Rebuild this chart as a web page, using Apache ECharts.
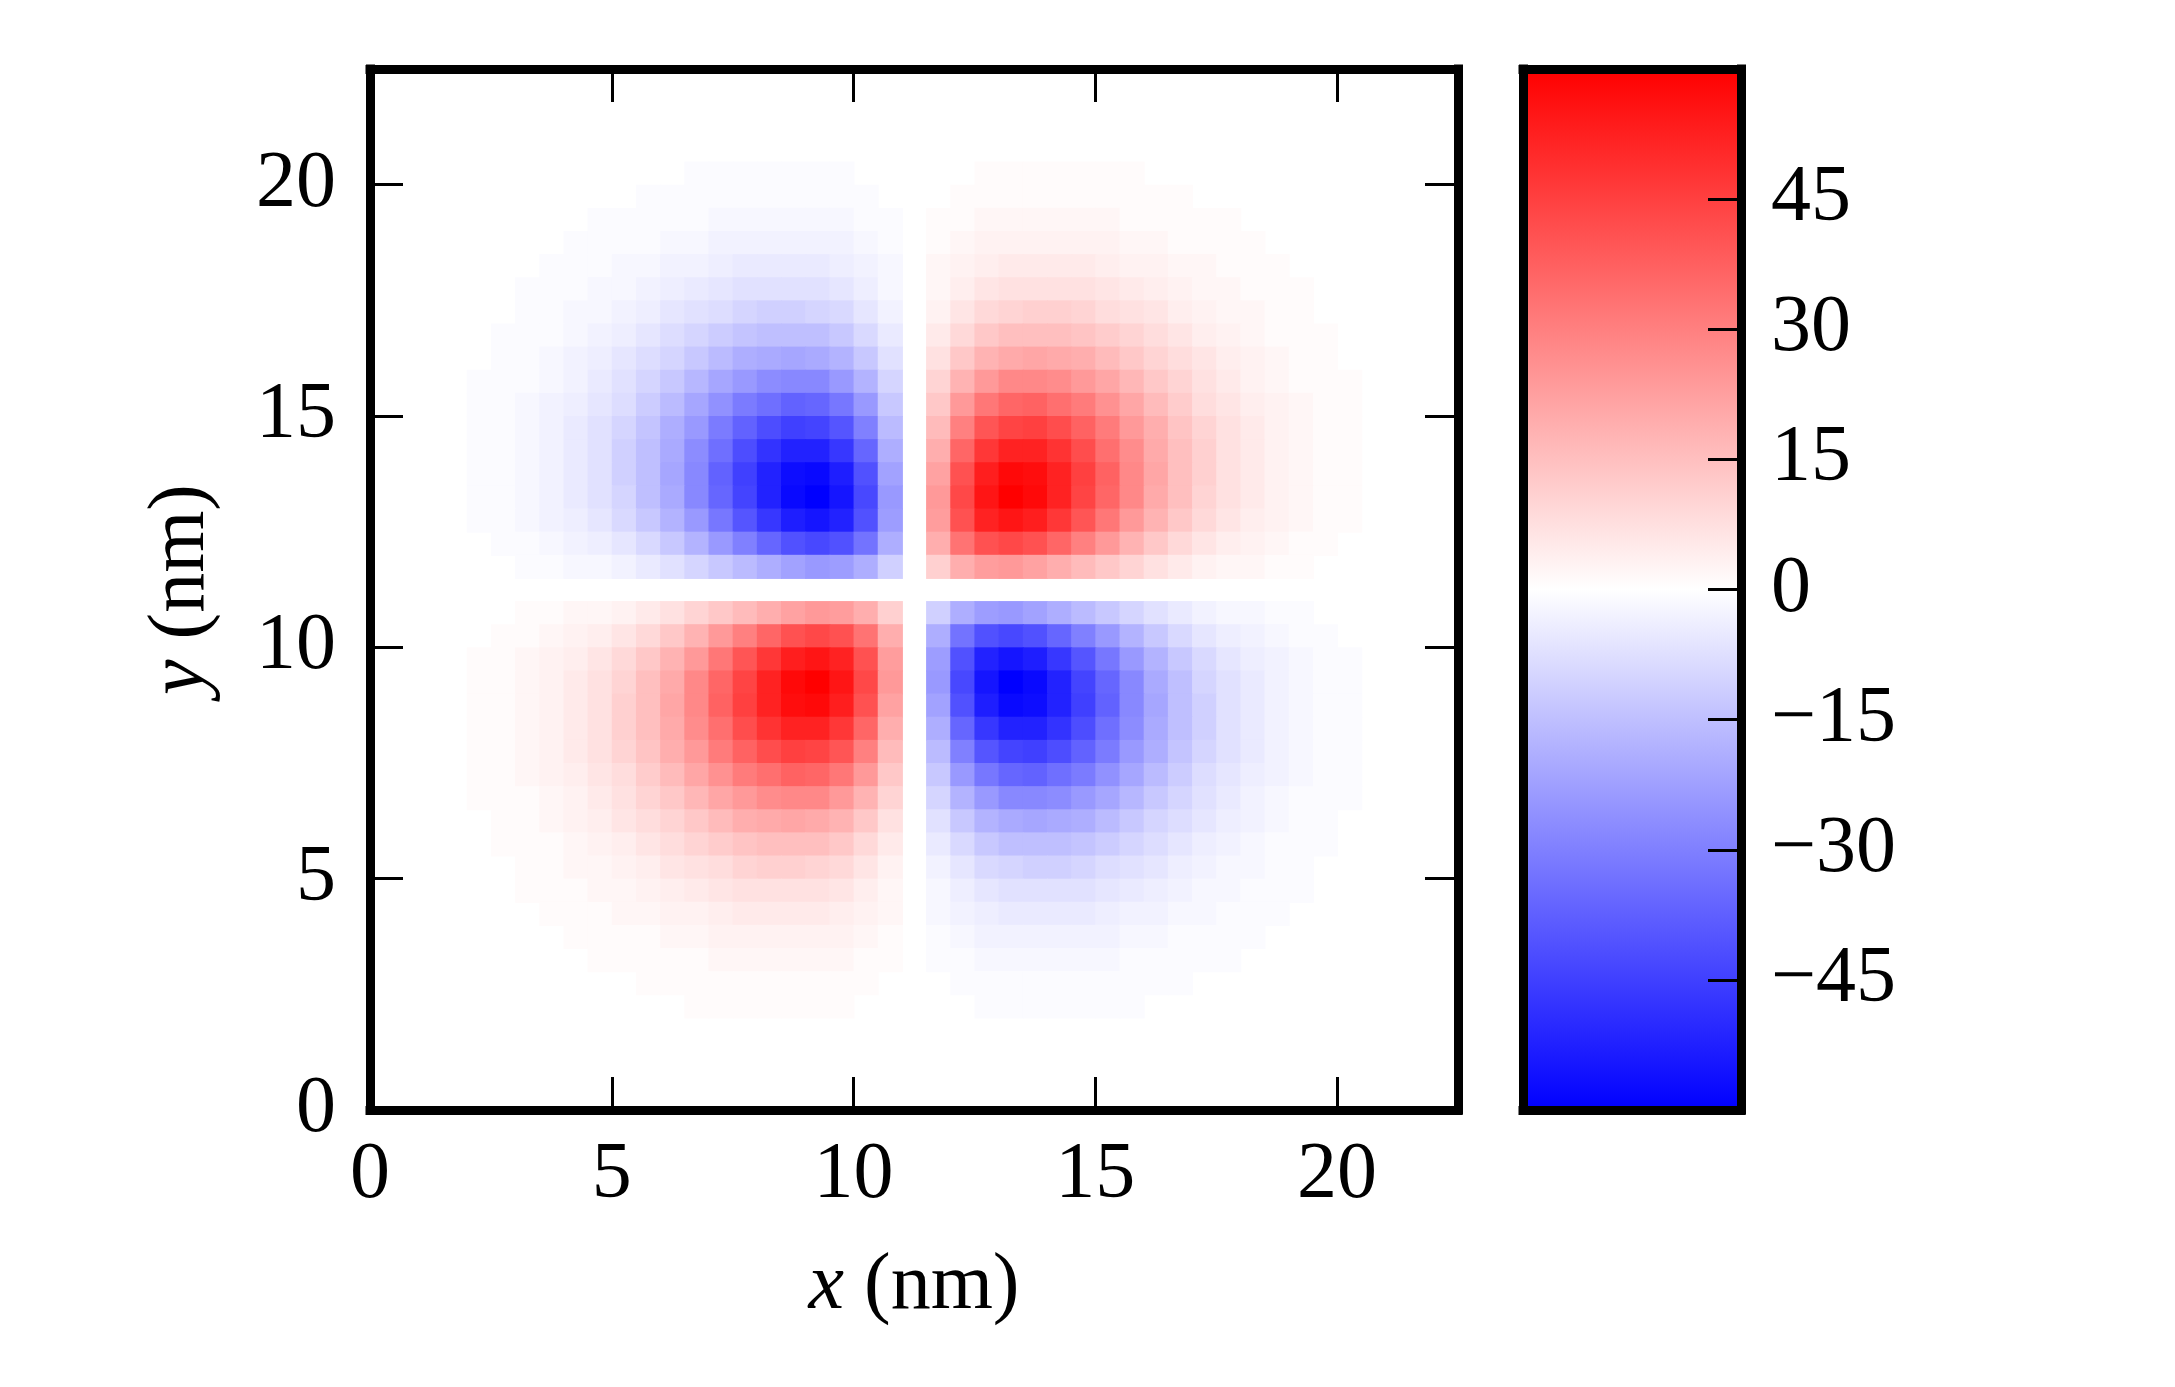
<!DOCTYPE html>
<html>
<head>
<meta charset="UTF-8">
<title>field map</title>
<script src="https://cdn.jsdelivr.net/npm/echarts@6/dist/echarts.min.js"></script>
<style>
  html, body { margin: 0; padding: 0; background: #fff; }
  #main { width: 2175px; height: 1387px; }
</style>
</head>
<body>
<div id="main"></div>
<script>
// cell centres of the map (nm), 0.5 nm cells
var xCells = [2.25, 2.75, 3.25, 3.75, 4.25, 4.75, 5.25, 5.75, 6.25, 6.75, 7.25, 7.75, 8.25, 8.75, 9.25, 9.75, 10.25, 10.75, 11.25,
  11.75, 12.25, 12.75, 13.25, 13.75, 14.25, 14.75, 15.25, 15.75, 16.25, 16.75, 17.25, 17.75, 18.25, 18.75, 19.25, 19.75, 20.25];
var yCells = [20.25, 19.75, 19.25, 18.75, 18.25, 17.75, 17.25, 16.75, 16.25, 15.75, 15.25, 14.75, 14.25, 13.75, 13.25, 12.75, 12.25, 11.75, 11.25,
  10.75, 10.25, 9.75, 9.25, 8.75, 8.25, 7.75, 7.25, 6.75, 6.25, 5.75, 5.25, 4.75, 4.25, 3.75, 3.25, 2.75, 2.25];
var cellSize = 0.5;

// values, one row per yCells entry (top to bottom), one column per xCells entry
var field = [
  [0,0,0,0,0,0,0,0,0,-1,-1,-1,-1,-1,-1,-1,0,0, 0, 0,0,1,1,1,1,1,1,1,0,0,0,0,0,0,0,0,0],
  [0,0,0,0,0,0,0,-1,-1,-1,-1,-1,-1,-1,-1,-1,-1,0, 0, 0,1,1,1,1,1,1,1,1,1,1,0,0,0,0,0,0,0],
  [0,0,0,0,0,-1,-1,-1,-1,-1,-2,-2,-2,-2,-2,-2,-1,-1, 0, 1,1,2,2,2,2,2,2,1,1,1,1,1,0,0,0,0,0],
  [0,0,0,0,-1,-1,-1,-1,-2,-2,-3,-3,-3,-3,-3,-3,-2,-1, 0, 1,2,3,3,3,3,3,3,2,2,1,1,1,1,0,0,0,0],
  [0,0,0,-1,-1,-1,-2,-2,-3,-3,-4,-5,-5,-5,-5,-4,-3,-2, 0, 2,3,4,5,5,5,5,4,3,3,2,2,1,1,1,0,0,0],
  [0,0,-1,-1,-1,-2,-2,-3,-4,-5,-6,-7,-7,-7,-7,-6,-4,-2, 0, 2,4,6,7,7,7,7,6,5,4,3,2,2,1,1,1,0,0],
  [0,0,-1,-1,-2,-2,-3,-4,-6,-7,-8,-10,-11,-11,-10,-9,-6,-3, 0, 3,6,9,10,11,11,10,8,7,6,4,3,2,2,1,1,0,0],
  [0,-1,-1,-1,-2,-3,-4,-6,-8,-10,-12,-14,-15,-15,-15,-13,-9,-5, 0, 5,9,13,15,15,15,14,12,10,8,6,4,3,2,1,1,1,0],
  [0,-1,-1,-2,-3,-4,-6,-8,-10,-13,-16,-19,-20,-21,-20,-18,-13,-7, 0, 7,13,18,20,21,20,19,16,13,10,8,6,4,3,2,1,1,0],
  [-1,-1,-1,-2,-3,-5,-7,-10,-13,-17,-21,-24,-27,-28,-28,-24,-18,-10, 0, 10,18,24,28,28,27,24,21,17,13,10,7,5,3,2,1,1,1],
  [-1,-1,-2,-3,-4,-6,-8,-12,-16,-21,-26,-31,-34,-37,-36,-32,-24,-13, 0, 13,24,32,36,37,34,31,26,21,16,12,8,6,4,3,2,1,1],
  [-1,-1,-2,-3,-5,-7,-10,-14,-19,-24,-31,-37,-42,-45,-44,-40,-30,-16, 0, 16,30,40,44,45,42,37,31,24,19,14,10,7,5,3,2,1,1],
  [-1,-1,-2,-3,-5,-7,-11,-15,-20,-27,-34,-42,-48,-52,-52,-47,-36,-19, 0, 19,36,47,52,52,48,42,34,27,20,15,11,7,5,3,2,1,1],
  [-1,-1,-2,-3,-5,-7,-11,-15,-21,-28,-37,-45,-52,-57,-58,-53,-41,-22, 0, 22,41,53,58,57,52,45,37,28,21,15,11,7,5,3,2,1,1],
  [-1,-1,-2,-3,-5,-7,-10,-15,-20,-28,-36,-44,-52,-58,-60,-55,-43,-24, 0, 24,43,55,60,58,52,44,36,28,20,15,10,7,5,3,2,1,1],
  [-1,-1,-2,-3,-4,-6,-9,-13,-18,-24,-32,-40,-47,-53,-55,-52,-41,-23, 0, 23,41,52,55,53,47,40,32,24,18,13,9,6,4,3,2,1,1],
  [0,-1,-1,-2,-3,-4,-6,-9,-13,-18,-24,-30,-36,-41,-43,-41,-33,-19, 0, 19,33,41,43,41,36,30,24,18,13,9,6,4,3,2,1,1,0],
  [0,0,-1,-1,-2,-2,-3,-5,-7,-10,-13,-16,-19,-22,-24,-23,-19,-11, 0, 11,19,23,24,22,19,16,13,10,7,5,3,2,2,1,1,0,0],
  [0,0,0,0,0,0,0,0,0,0,0,0,0,0,0,0,0,0, 0, 0,0,0,0,0,0,0,0,0,0,0,0,0,0,0,0,0,0],
  [0,0,1,1,2,2,3,5,7,10,13,16,19,22,24,23,19,11, 0, -11,-19,-23,-24,-22,-19,-16,-13,-10,-7,-5,-3,-2,-2,-1,-1,0,0],
  [0,1,1,2,3,4,6,9,13,18,24,30,36,41,43,41,33,19, 0, -19,-33,-41,-43,-41,-36,-30,-24,-18,-13,-9,-6,-4,-3,-2,-1,-1,0],
  [1,1,2,3,4,6,9,13,18,24,32,40,47,53,55,52,41,23, 0, -23,-41,-52,-55,-53,-47,-40,-32,-24,-18,-13,-9,-6,-4,-3,-2,-1,-1],
  [1,1,2,3,5,7,10,15,20,28,36,44,52,58,60,55,43,24, 0, -24,-43,-55,-60,-58,-52,-44,-36,-28,-20,-15,-10,-7,-5,-3,-2,-1,-1],
  [1,1,2,3,5,7,11,15,21,28,37,45,52,57,58,53,41,22, 0, -22,-41,-53,-58,-57,-52,-45,-37,-28,-21,-15,-11,-7,-5,-3,-2,-1,-1],
  [1,1,2,3,5,7,11,15,20,27,34,42,48,52,52,47,36,19, 0, -19,-36,-47,-52,-52,-48,-42,-34,-27,-20,-15,-11,-7,-5,-3,-2,-1,-1],
  [1,1,2,3,5,7,10,14,19,24,31,37,42,45,44,40,30,16, 0, -16,-30,-40,-44,-45,-42,-37,-31,-24,-19,-14,-10,-7,-5,-3,-2,-1,-1],
  [1,1,2,3,4,6,8,12,16,21,26,31,34,37,36,32,24,13, 0, -13,-24,-32,-36,-37,-34,-31,-26,-21,-16,-12,-8,-6,-4,-3,-2,-1,-1],
  [1,1,1,2,3,5,7,10,13,17,21,24,27,28,28,24,18,10, 0, -10,-18,-24,-28,-28,-27,-24,-21,-17,-13,-10,-7,-5,-3,-2,-1,-1,-1],
  [0,1,1,2,3,4,6,8,10,13,16,19,20,21,20,18,13,7, 0, -7,-13,-18,-20,-21,-20,-19,-16,-13,-10,-8,-6,-4,-3,-2,-1,-1,0],
  [0,1,1,1,2,3,4,6,8,10,12,14,15,15,15,13,9,5, 0, -5,-9,-13,-15,-15,-15,-14,-12,-10,-8,-6,-4,-3,-2,-1,-1,-1,0],
  [0,0,1,1,2,2,3,4,6,7,8,10,11,11,10,9,6,3, 0, -3,-6,-9,-10,-11,-11,-10,-8,-7,-6,-4,-3,-2,-2,-1,-1,0,0],
  [0,0,1,1,1,2,2,3,4,5,6,7,7,7,7,6,4,2, 0, -2,-4,-6,-7,-7,-7,-7,-6,-5,-4,-3,-2,-2,-1,-1,-1,0,0],
  [0,0,0,1,1,1,2,2,3,3,4,5,5,5,5,4,3,2, 0, -2,-3,-4,-5,-5,-5,-5,-4,-3,-3,-2,-2,-1,-1,-1,0,0,0],
  [0,0,0,0,1,1,1,1,2,2,3,3,3,3,3,3,2,1, 0, -1,-2,-3,-3,-3,-3,-3,-3,-2,-2,-1,-1,-1,-1,0,0,0,0],
  [0,0,0,0,0,1,1,1,1,1,2,2,2,2,2,2,1,1, 0, -1,-1,-2,-2,-2,-2,-2,-2,-1,-1,-1,-1,-1,0,0,0,0,0],
  [0,0,0,0,0,0,0,1,1,1,1,1,1,1,1,1,1,0, 0, 0,-1,-1,-1,-1,-1,-1,-1,-1,-1,-1,0,0,0,0,0,0,0],
  [0,0,0,0,0,0,0,0,0,1,1,1,1,1,1,1,0,0, 0, 0,0,-1,-1,-1,-1,-1,-1,-1,0,0,0,0,0,0,0,0,0]
];

var xTicks = [0, 5, 10, 15, 20];
var yTicks = [0, 5, 10, 15, 20];
var axisRange = [0, 22.5];
var cbRange = [-60, 60];
var cbTicks = [-45, -30, -15, 0, 15, 30, 45];

// build [x, y, value] triples for the custom series
var fieldData = [];
field.forEach(function (row, r) {
    row.forEach(function (v, c) {
        fieldData.push([xCells[c], yCells[r], v]);
    });
});

var FONT = 'Liberation Serif';
var frameLine = { show: true, onZero: false, lineStyle: { color: '#000', width: 9, cap: 'square' } };
var tickLine = { color: '#000', width: 3 };

function frameAxis(extra) {
    var a = {
        type: 'value', z: 5,
        axisLine: frameLine,
        axisTick: { show: false },
        axisLabel: { show: false },
        splitLine: { show: false }
    };
    for (var k in extra) a[k] = extra[k];
    return a;
}

function minusFmt(v) {
    return v < 0 ? '\u2212' + Math.abs(v) : String(v);
}

var chart = echarts.init(document.getElementById('main'));

var option = {
    backgroundColor: '#fff',
    animation: false,
    grid: [
        { left: 370, top: 69, width: 1088, height: 1041, outerBoundsMode: 'none' },
        { left: 1523, top: 69, width: 218, height: 1041, outerBoundsMode: 'none' }
    ],
    xAxis: [
        frameAxis({
            gridIndex: 0, position: 'bottom', min: axisRange[0], max: axisRange[1],
            axisTick: { show: true, inside: true, length: 33, customValues: xTicks, lineStyle: tickLine },
            axisLabel: { show: true, margin: 26, customValues: xTicks, fontFamily: FONT, fontSize: 80, color: '#000' },
            name: '{i|x} (nm)', nameLocation: 'middle', nameGap: 137,
            nameTextStyle: { fontFamily: FONT, fontSize: 80, color: '#000',
                rich: { i: { fontFamily: FONT, fontSize: 80, fontStyle: 'italic', color: '#000' } } }
        }),
        frameAxis({
            gridIndex: 0, position: 'top', min: axisRange[0], max: axisRange[1],
            axisTick: { show: true, inside: true, length: 33, customValues: xTicks, lineStyle: tickLine }
        }),
        frameAxis({ gridIndex: 1, position: 'bottom', min: 0, max: 1 }),
        frameAxis({ gridIndex: 1, position: 'top', min: 0, max: 1 })
    ],
    yAxis: [
        frameAxis({
            gridIndex: 0, position: 'left', min: axisRange[0], max: axisRange[1],
            axisTick: { show: true, inside: true, length: 33, customValues: yTicks, lineStyle: tickLine },
            axisLabel: { show: true, margin: 34, customValues: yTicks, fontFamily: FONT, fontSize: 80, color: '#000' },
            name: '{i|y} (nm)', nameLocation: 'middle', nameGap: 148, nameRotate: 90,
            nameTextStyle: { fontFamily: FONT, fontSize: 80, color: '#000',
                rich: { i: { fontFamily: FONT, fontSize: 80, fontStyle: 'italic', color: '#000' } } }
        }),
        frameAxis({
            gridIndex: 0, position: 'right', min: axisRange[0], max: axisRange[1],
            axisTick: { show: true, inside: true, length: 33, customValues: yTicks, lineStyle: tickLine }
        }),
        frameAxis({ gridIndex: 1, position: 'left', min: cbRange[0], max: cbRange[1] }),
        frameAxis({
            gridIndex: 1, position: 'right', min: cbRange[0], max: cbRange[1],
            axisTick: { show: true, inside: true, length: 33, customValues: cbTicks, lineStyle: tickLine },
            axisLabel: { show: true, margin: 30, customValues: cbTicks, formatter: minusFmt,
                fontFamily: FONT, fontSize: 80, color: '#000' }
        })
    ],
    visualMap: {
        type: 'continuous', show: false, seriesIndex: 0, dimension: 2,
        min: cbRange[0], max: cbRange[1],
        inRange: { color: ['#0000ff', '#ffffff', '#ff0000'] }
    },
    series: [
        {
            type: 'custom',
            xAxisIndex: 0, yAxisIndex: 0,
            data: fieldData,
            renderItem: function (params, api) {
                var v = api.value(2);
                if (v === 0) return null;
                var c = api.coord([api.value(0), api.value(1)]);
                var s = api.size([cellSize, cellSize]);
                return {
                    type: 'rect',
                    shape: { x: c[0] - s[0] / 2, y: c[1] - s[1] / 2, width: s[0] + 1, height: s[1] + 1 },
                    style: { fill: api.visual('color') }
                };
            }
        },
        {
            // colour bar
            type: 'custom',
            xAxisIndex: 2, yAxisIndex: 2,
            data: [[0, cbRange[0], cbRange[1]]],
            renderItem: function (params, api) {
                var p0 = api.coord([0, api.value(1)]);
                var p1 = api.coord([1, api.value(2)]);
                return {
                    type: 'rect',
                    shape: { x: p0[0], y: p1[1], width: p1[0] - p0[0], height: p0[1] - p1[1] },
                    style: {
                        fill: new echarts.graphic.LinearGradient(0, 0, 0, 1, [
                            { offset: 0, color: '#ff0000' },
                            { offset: 0.5, color: '#ffffff' },
                            { offset: 1, color: '#0000ff' }
                        ])
                    }
                };
            }
        }
    ]
};

chart.setOption(option);
</script>
</body>
</html>
